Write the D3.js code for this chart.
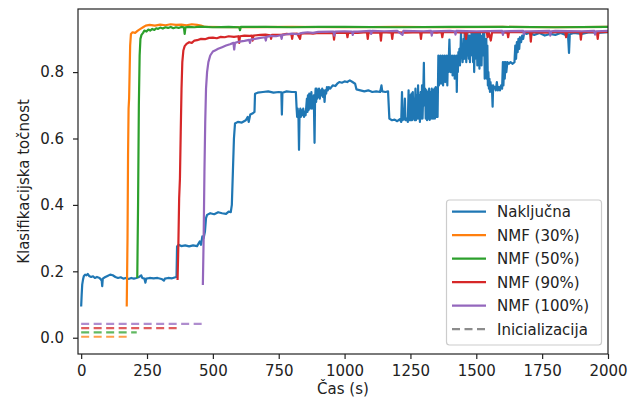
<!DOCTYPE html>
<html>
<head>
<meta charset="utf-8">
<script src="https://cdn.jsdelivr.net/npm/d3@7/dist/d3.min.js"></script>
<style>
  html, body { margin: 0; padding: 0; background: #fff; }
  svg { display: block; font-family: "DejaVu Sans", sans-serif; }
</style>
</head>
<body>
<svg id="chart" width="629" height="406"></svg>
<script>
// Series names (legend order) and colours
const seriesNames = ["Naključna", "NMF (30%)", "NMF (50%)", "NMF (90%)", "NMF (100%)"];
const seriesColors = ["#1f77b4", "#ff7f0e", "#2ca02c", "#d62728", "#9467bd"];
const initLabel = "Inicializacija";

const xTicks = [0, 250, 500, 750, 1000, 1250, 1500, 1750, 2000];
const yTicks = [0.0, 0.2, 0.4, 0.6, 0.8];

// [time (s), classification accuracy]
const nakljucna = [
  [0,0.094],[2,0.13],[4,0.16],[7,0.175],[10,0.185],[15,0.19],[20,0.188],[25,0.192],[30,0.186],[38,0.183],
  [45,0.185],[52,0.18],[60,0.183],[70,0.18],[78,0.172],[80,0.155],[82,0.178],[90,0.182],[100,0.186],[110,0.19],
  [120,0.188],[130,0.183],[140,0.18],[150,0.182],[160,0.178],[170,0.18],[180,0.177],[190,0.18],[200,0.178],[210,0.18],
  [220,0.183],[228,0.188],[232,0.18],[240,0.178],[244,0.166],[247,0.178],[260,0.18],[275,0.179],[290,0.18],[305,0.177],
  [314,0.172],[318,0.178],[330,0.18],[345,0.179],[358,0.182],[362,0.183],[364,0.275],[370,0.28],[380,0.276],[395,0.278],
  [410,0.275],[425,0.278],[440,0.276],[450,0.29],[455,0.28],[460,0.305],[465,0.3],[470,0.32],[474,0.36],[478,0.37],
  [490,0.375],[505,0.372],[520,0.378],[535,0.375],[550,0.373],[560,0.38],[568,0.378],[572,0.4],[576,0.5],[580,0.6],
  [584,0.645],[595,0.65],[610,0.648],[625,0.655],[632,0.665],[636,0.65],[642,0.672],[652,0.676],[658,0.68],[660,0.735],
  [670,0.738],[690,0.74],[710,0.742],[730,0.738],[750,0.74],[760,0.739],[762,0.672],[764,0.738],[780,0.742],[800,0.74],
  [815,0.74],[818,0.69],[820,0.665],[822,0.69],[825,0.66],[827,0.566],[829,0.67],[832,0.69],[834,0.665],[837,0.685],
  [840,0.67],[843,0.69],[846,0.665],[849,0.68],[852,0.67],[855,0.7],[857,0.72],[859,0.68],[861,0.73],[863,0.685],
  [866,0.735],[868,0.69],[870,0.73],[872,0.7],[874,0.74],[876,0.69],[878,0.72],[880,0.7],[883,0.73],[886,0.587],
  [888,0.72],[890,0.75],[892,0.71],[894,0.75],[896,0.72],[898,0.745],[900,0.725],[903,0.75],[906,0.72],[909,0.745],
  [912,0.73],[915,0.75],[918,0.725],[921,0.745],[924,0.71],[927,0.745],[930,0.735],[933,0.755],[936,0.745],[940,0.755],
  [945,0.75],[955,0.76],[965,0.758],[972,0.765],[980,0.77],[990,0.768],[1000,0.772],[1010,0.77],[1020,0.775],[1030,0.77],
  [1040,0.765],[1045,0.748],[1060,0.745],[1075,0.742],[1090,0.745],[1105,0.74],[1120,0.742],[1135,0.74],[1140,0.76],[1143,0.742],
  [1155,0.74],[1165,0.742],[1170,0.66],[1180,0.655],[1190,0.657],[1200,0.652],[1210,0.658],[1215,0.65],[1218,0.74],[1220,0.655],
  [1226,0.66],[1229,0.72],[1231,0.655],[1236,0.66],[1240,0.65],[1243,0.745],[1245,0.655],[1249,0.73],[1251,0.655],[1254,0.735],
  [1256,0.655],[1259,0.74],[1261,0.66],[1264,0.72],[1266,0.655],[1269,0.75],[1271,0.655],[1274,0.73],[1276,0.66],[1279,0.76],
  [1281,0.66],[1284,0.73],[1286,0.65],[1289,0.74],[1291,0.66],[1294,0.76],[1296,0.66],[1299,0.75],[1301,0.828],[1303,0.7],
  [1306,0.75],[1308,0.66],[1311,0.745],[1313,0.655],[1316,0.74],[1318,0.66],[1321,0.75],[1323,0.656],[1326,0.74],[1328,0.66],
  [1331,0.75],[1333,0.66],[1336,0.745],[1338,0.66],[1341,0.75],[1343,0.66],[1346,0.755],[1348,0.665],[1351,0.74],[1353,0.665],
  [1356,0.85],[1358,0.76],[1360,0.845],[1362,0.78],[1364,0.85],[1366,0.765],[1368,0.84],[1370,0.79],[1372,0.85],[1374,0.76],
  [1376,0.845],[1378,0.8],[1380,0.85],[1382,0.77],[1384,0.84],[1386,0.78],[1388,0.85],[1390,0.76],[1392,0.84],[1394,0.8],
  [1396,0.85],[1398,0.898],[1400,0.84],[1402,0.8],[1404,0.845],[1406,0.81],[1408,0.85],[1410,0.79],[1412,0.84],[1414,0.8],
  [1416,0.85],[1418,0.78],[1420,0.84],[1422,0.81],[1424,0.85],[1426,0.74],[1428,0.85],[1430,0.8],[1432,0.86],[1434,0.83],
  [1436,0.87],[1438,0.82],[1440,0.86],[1442,0.92],[1444,0.85],[1446,0.87],[1448,0.83],[1450,0.86],[1452,0.9],[1454,0.84],
  [1456,0.92],[1458,0.85],[1460,0.88],[1462,0.83],[1464,0.87],[1466,0.92],[1468,0.85],[1470,0.89],[1472,0.84],[1474,0.91],
  [1476,0.83],[1478,0.9],[1480,0.85],[1482,0.92],[1484,0.86],[1486,0.9],[1488,0.83],[1490,0.92],[1492,0.8],[1494,0.88],
  [1496,0.84],[1498,0.92],[1500,0.85],[1502,0.9],[1504,0.82],[1506,0.92],[1508,0.84],[1510,0.9],[1512,0.81],[1514,0.92],
  [1516,0.86],[1518,0.9],[1520,0.82],[1522,0.91],[1524,0.85],[1526,0.92],[1528,0.86],[1530,0.92],[1532,0.78],[1534,0.88],
  [1536,0.8],[1538,0.9],[1540,0.78],[1542,0.88],[1544,0.76],[1546,0.8],[1548,0.75],[1550,0.78],[1552,0.74],[1554,0.77],
  [1556,0.745],[1558,0.76],[1560,0.74],[1562,0.696],[1564,0.76],[1566,0.75],[1570,0.755],[1574,0.745],[1578,0.77],[1582,0.745],
  [1586,0.755],[1590,0.745],[1594,0.76],[1598,0.75],[1601,0.83],[1603,0.76],[1606,0.83],[1608,0.78],[1611,0.83],[1614,0.8],
  [1618,0.83],[1624,0.825],[1630,0.83],[1638,0.825],[1645,0.83],[1648,0.88],[1651,0.84],[1654,0.89],[1657,0.86],[1660,0.9],
  [1663,0.87],[1666,0.905],[1670,0.89],[1674,0.91],[1678,0.9],[1682,0.92],[1690,0.915],[1700,0.918],[1720,0.912],[1740,0.918],
  [1760,0.91],[1780,0.915],[1800,0.912],[1820,0.918],[1840,0.912],[1848,0.915],[1852,0.858],[1855,0.914],[1870,0.918],[1900,0.915],
  [1930,0.92],[1960,0.918],[2000,0.92]
];

const nmf30 = [
  [173,0.094],[176,0.3],[178,0.55],[180,0.69],[182,0.72],[184,0.8],[186,0.88],[189,0.915],[195,0.92],[205,0.918],
  [215,0.925],[225,0.93],[235,0.935],[245,0.94],[260,0.942],[280,0.94],[300,0.943],[320,0.941],[340,0.944],[360,0.942],
  [380,0.943],[400,0.941],[420,0.944],[440,0.942],[455,0.94],[470,0.936],[600,0.935],[800,0.936],[1000,0.935],[1200,0.936],
  [1400,0.935],[1600,0.936],[1800,0.935],[2000,0.936]
];

const nmf50 = [
  [213,0.18],[216,0.4],[219,0.7],[222,0.85],[225,0.9],[229,0.912],[235,0.918],[240,0.925],[248,0.922],[255,0.928],
  [262,0.925],[270,0.93],[278,0.927],[285,0.932],[292,0.93],[300,0.934],[310,0.931],[320,0.935],[330,0.933],[340,0.936],
  [350,0.932],[360,0.935],[370,0.933],[380,0.936],[390,0.935],[393,0.915],[396,0.935],[410,0.936],[430,0.935],[450,0.937],
  [470,0.936],[500,0.935],[560,0.936],[600,0.935],[603,0.926],[606,0.936],[700,0.936],[800,0.935],[900,0.936],[1000,0.936],
  [1200,0.935],[1400,0.936],[1600,0.936],[1800,0.935],[2000,0.936]
];

const nmf90 = [
  [366,0.174],[369,0.28],[372,0.42],[375,0.48],[378,0.62],[381,0.75],[384,0.83],[388,0.865],[393,0.878],[400,0.885],
  [410,0.89],[420,0.888],[430,0.895],[440,0.896],[455,0.9],[470,0.899],[485,0.903],[500,0.904],[515,0.902],[530,0.906],
  [545,0.905],[560,0.908],[580,0.906],[597,0.908],[600,0.888],[603,0.908],[620,0.91],[640,0.909],[648,0.91],[651,0.895],
  [654,0.91],[680,0.912],[700,0.913],[718,0.911],[721,0.9],[724,0.912],[760,0.912],[780,0.915],[798,0.914],[801,0.9],
  [804,0.915],[820,0.916],[831,0.9],[834,0.916],[860,0.917],[880,0.916],[900,0.918],[930,0.917],[957,0.918],[960,0.898],
  [963,0.918],[1008,0.919],[1011,0.905],[1014,0.919],[1050,0.918],[1085,0.92],[1088,0.9],[1091,0.919],[1135,0.919],[1138,0.895],
  [1141,0.92],[1178,0.919],[1181,0.9],[1184,0.92],[1230,0.919],[1287,0.92],[1290,0.9],[1293,0.92],[1350,0.919],[1368,0.92],
  [1371,0.905],[1374,0.92],[1420,0.92],[1458,0.919],[1461,0.9],[1464,0.92],[1540,0.92],[1543,0.905],[1548,0.918],[1555,0.895],
  [1560,0.92],[1618,0.919],[1621,0.905],[1624,0.92],[1660,0.92],[1704,0.92],[1707,0.892],[1710,0.92],[1760,0.919],[1800,0.92],
  [1838,0.92],[1841,0.905],[1844,0.92],[1894,0.921],[1897,0.898],[1900,0.92],[1958,0.92],[1961,0.9],[1964,0.92],[2000,0.921]
];

const nmf100 = [
  [462,0.159],[465,0.3],[468,0.5],[471,0.65],[474,0.75],[478,0.8],[483,0.83],[490,0.85],[500,0.862],[510,0.866],
  [520,0.87],[535,0.875],[550,0.88],[565,0.884],[578,0.888],[581,0.868],[584,0.888],[600,0.892],[620,0.894],[638,0.897],
  [641,0.888],[644,0.898],[660,0.9],[680,0.903],[698,0.905],[701,0.895],[704,0.906],[720,0.909],[740,0.908],[758,0.911],
  [761,0.9],[764,0.912],[780,0.914],[800,0.916],[820,0.914],[840,0.918],[860,0.92],[880,0.918],[900,0.921],[950,0.922],
  [958,0.922],[961,0.91],[964,0.922],[1000,0.923],[1028,0.922],[1031,0.912],[1034,0.922],[1050,0.922],[1098,0.924],[1101,0.915],
  [1104,0.924],[1150,0.923],[1200,0.924],[1220,0.912],[1223,0.924],[1300,0.923],[1328,0.924],[1331,0.91],[1334,0.923],[1400,0.924],
  [1418,0.923],[1421,0.913],[1424,0.924],[1500,0.923],[1598,0.924],[1601,0.912],[1604,0.923],[1678,0.924],[1681,0.914],[1684,0.923],
  [1700,0.923],[1778,0.924],[1781,0.91],[1784,0.923],[1800,0.924],[1900,0.923],[1948,0.924],[1951,0.913],[1954,0.923],[2000,0.924]
];

const seriesData = [nakljucna, nmf30, nmf50, nmf90, nmf100];

// Initialisation phase per NMF run: [start, end] in seconds and the level it is drawn at
const initSpans = [[0,173],[0,211],[0,363],[0,462]];
const initLevels = [0.003, 0.016, 0.029, 0.042];

// Layout
const W = 629, H = 406;
const plot = { left: 78, right: 608, top: 9, bottom: 354 };

const svg = d3.select("#chart");
svg.append("rect").attr("width", W).attr("height", H).attr("fill", "#fff");

const x = d3.scaleLinear().domain([-12, 2000]).range([plot.left, plot.right]);
const y = d3.scaleLinear().domain([-0.049, 0.990]).range([plot.bottom, plot.top]);

svg.append("defs").append("clipPath").attr("id", "plotClip")
  .append("rect")
  .attr("x", plot.left).attr("y", plot.top)
  .attr("width", plot.right - plot.left).attr("height", plot.bottom - plot.top);

const g = svg.append("g").attr("clip-path", "url(#plotClip)");

const line = d3.line().x(d => x(d[0])).y(d => y(d[1]));

seriesData.forEach((data, i) => {
  g.append("path")
    .datum(data)
    .attr("d", line)
    .attr("fill", "none")
    .attr("stroke", seriesColors[i])
    .attr("stroke-width", 2.2)
    .attr("stroke-linejoin", "round");
});

// Initialisation dashes, one per NMF variant
initSpans.forEach((span, i) => {
  g.append("path")
    .datum([[span[0], initLevels[i]], [span[1], initLevels[i]]])
    .attr("d", line)
    .attr("fill", "none")
    .attr("stroke", seriesColors[i + 1])
    .attr("stroke-opacity", 0.75)
    .attr("stroke-width", 2.2)
    .attr("stroke-dasharray", "8,4.5");
});

// Axes
const fontSize = 15;
const xAxis = d3.axisBottom(x).tickValues(xTicks).tickFormat(d3.format("d")).tickSize(5).tickPadding(6);
const yAxis = d3.axisLeft(y).tickValues(yTicks).tickFormat(d3.format(".1f")).tickSize(5).tickPadding(9);

const gx = svg.append("g").attr("transform", `translate(0,${plot.bottom})`).call(xAxis);
const gy = svg.append("g").attr("transform", `translate(${plot.left},0)`).call(yAxis);
[gx, gy].forEach(ax => {
  ax.select(".domain").remove();
  ax.selectAll(".tick line").attr("stroke", "#222").attr("stroke-width", 1.2);
  ax.selectAll(".tick text").attr("fill", "#222").style("font-size", fontSize + "px")
    .style("font-family", "'DejaVu Sans', sans-serif");
});

// Frame
svg.append("rect")
  .attr("x", plot.left).attr("y", plot.top)
  .attr("width", plot.right - plot.left).attr("height", plot.bottom - plot.top)
  .attr("fill", "none").attr("stroke", "#222").attr("stroke-width", 1.2);

// Axis titles
svg.append("text")
  .attr("x", (plot.left + plot.right) / 2).attr("y", 394)
  .attr("text-anchor", "middle").attr("fill", "#222")
  .style("font-size", fontSize + "px")
  .text("Čas (s)");

svg.append("text")
  .attr("transform", `translate(29,${(plot.top + plot.bottom) / 2}) rotate(-90)`)
  .attr("text-anchor", "middle").attr("fill", "#222")
  .style("font-size", fontSize + "px")
  .text("Klasifikacijska točnost");

// Legend
const legend = svg.append("g");
legend.append("rect")
  .attr("x", 446.5).attr("y", 200).attr("width", 155).attr("height", 145)
  .attr("rx", 3).attr("ry", 3)
  .attr("fill", "#fff").attr("fill-opacity", 0.8)
  .attr("stroke", "#cccccc").attr("stroke-width", 1.2);

const legendItems = seriesNames.map((name, i) => ({ name, color: seriesColors[i], dash: null }))
  .concat([{ name: initLabel, color: "#8c8c8c", dash: "8,4.5" }]);

legendItems.forEach((item, i) => {
  const cy = 211.7 + i * 23.5;
  legend.append("line")
    .attr("x1", 452).attr("x2", 486).attr("y1", cy).attr("y2", cy)
    .attr("stroke", item.color).attr("stroke-width", 2.2)
    .attr("stroke-dasharray", item.dash);
  legend.append("text")
    .attr("x", 497).attr("y", cy + 5.3)
    .attr("fill", "#222")
    .style("font-size", fontSize + "px")
    .text(item.name);
});
</script>
</body>
</html>
